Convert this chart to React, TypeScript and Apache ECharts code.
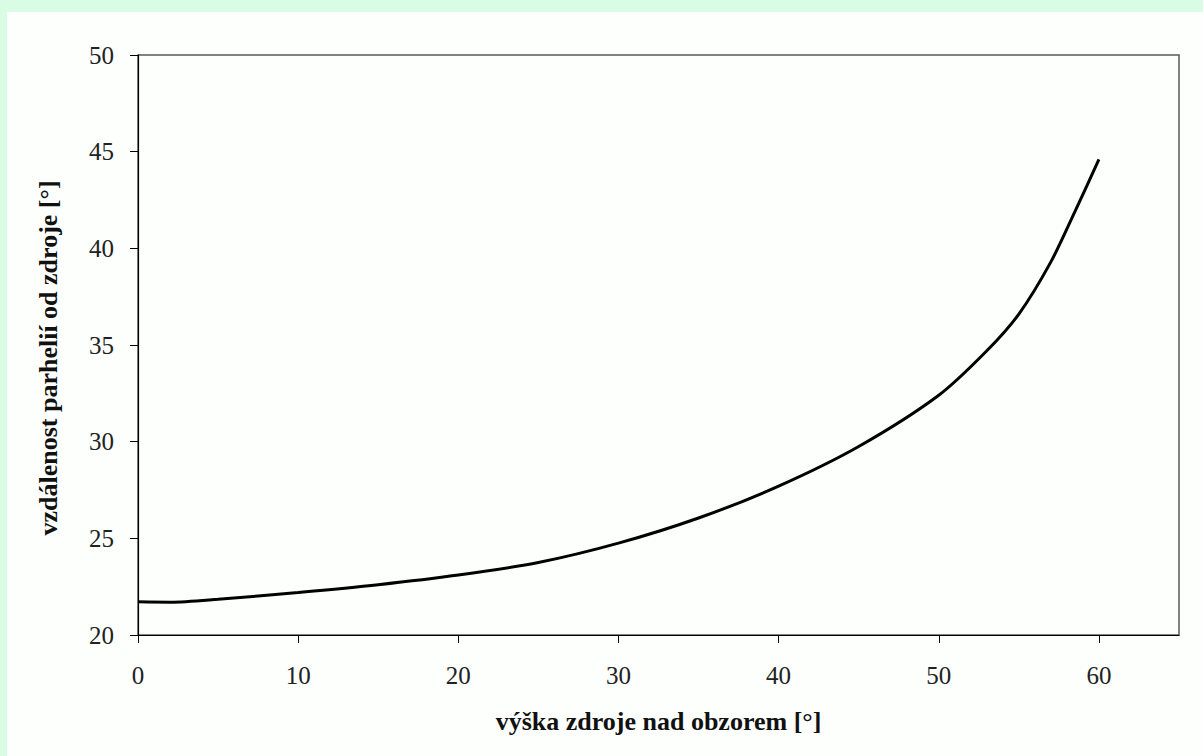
import React, { useEffect, useRef } from "react";
import * as echarts from "echarts";

// Data
const sunAltitude = [0, 2, 5, 10, 15, 20, 25, 30, 35, 40, 45, 50, 53, 55, 57, 58.5, 60];
const parhelionDistance = [21.72, 21.7, 21.85, 22.2, 22.6, 23.1, 23.75, 24.75, 26.05, 27.7, 29.75, 32.4, 34.7, 36.6, 39.3, 41.9, 44.6];
const xTickValues = [0, 10, 20, 30, 40, 50, 60];
const yTickValues = [20, 25, 30, 35, 40, 45, 50];
const xTitle = "výška zdroje nad obzorem [°]";
const yTitle = "vzdálenost parhelií od zdroje [°]";

const FONT = "'Liberation Serif', 'Times New Roman', serif";

export default function App() {
  const ref = useRef<HTMLDivElement>(null);

  useEffect(() => {
    if (!ref.current) return;
    const chart = echarts.init(ref.current, undefined, { renderer: "svg" });
    const data = sunAltitude.map((x, i) => [x, parhelionDistance[i]]);
    chart.setOption({
      animation: false,
      backgroundColor: "#fcfffc",
      grid: {
        left: 131,
        top: 43,
        right: 24,
        bottom: 121,
        show: true,
        borderColor: "#5a5a5a",
        borderWidth: 1.5,
        backgroundColor: "transparent",
      },
      xAxis: {
        type: "value",
        min: 0,
        max: 65,
        interval: 10,
        name: xTitle,
        nameLocation: "middle",
        nameGap: 73,
        nameTextStyle: { fontFamily: FONT, fontSize: 26, fontWeight: "bold", color: "#111" },
        axisLine: { show: true, onZero: false, lineStyle: { color: "#000", width: 1.2 } },
        axisTick: { show: true, inside: false, length: 8, customValues: xTickValues, lineStyle: { color: "#000" } },
        axisLabel: { customValues: xTickValues, margin: 28, fontFamily: FONT, fontSize: 25, color: "#222" },
        splitLine: { show: false },
      },
      yAxis: {
        type: "value",
        min: 20,
        max: 50,
        interval: 5,
        name: yTitle,
        nameLocation: "middle",
        nameGap: 77,
        nameTextStyle: { fontFamily: FONT, fontSize: 26, fontWeight: "bold", color: "#111", padding: [0, 26, 0, 0] },
        axisLine: { show: true, onZero: false, lineStyle: { color: "#000", width: 1.2 } },
        axisTick: { show: true, inside: false, length: 8, customValues: yTickValues, lineStyle: { color: "#000" } },
        axisLabel: { customValues: yTickValues, margin: 24, fontFamily: FONT, fontSize: 25, color: "#222" },
        splitLine: { show: false },
      },
      series: [
        {
          type: "line",
          data,
          smooth: 0.3,
          showSymbol: false,
          symbol: "none",
          lineStyle: { color: "#000", width: 3 },
        },
      ],
    });
    return () => chart.dispose();
  }, []);

  return (
    <div style={{ position: "fixed", left: 0, top: 0, width: 1203, height: 756, background: "#d9fde4" }}>
      <div ref={ref} style={{ position: "absolute", left: 7, top: 12, width: 1196, height: 744 }} />
    </div>
  );
}
